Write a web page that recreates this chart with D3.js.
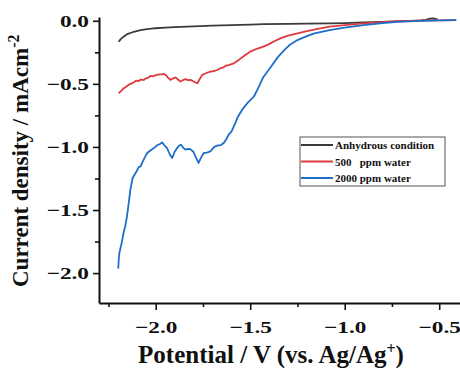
<!DOCTYPE html>
<html>
<head>
<meta charset="utf-8">
<script src="https://cdn.jsdelivr.net/npm/d3@7"></script>
<style>
	body { margin: 0; background: #fff; }
	text { font-family: "Liberation Serif", "Times New Roman", serif; font-weight: bold; }
</style>
</head>
<body>
<div id="chart"></div>
<script>
// Data (potential in V, current density in mA/cm2)
// =====================================================================
var anhydrousV = [-2.196, -2.185, -2.17, -2.15, -2.116, -2.08, -2.045, -2.0, -1.95, -1.9, -1.8, -1.7, -1.6, -1.5, -1.43, -1.3, -1.2, -1.08, -1.0, -0.9, -0.81, -0.72, -0.64, -0.6, -0.57, -0.55, -0.53, -0.51];
var anhydrousJ = [-0.166, -0.145, -0.126, -0.105, -0.087, -0.074, -0.066, -0.059, -0.054, -0.050, -0.044, -0.039, -0.034, -0.030, -0.026, -0.024, -0.022, -0.021, -0.018, -0.013, -0.008, -0.004, 0.0, 0.004, 0.008, 0.017, 0.019, 0.011];

var water500V = [-2.196, -2.185, -2.17, -2.16, -2.15, -2.134, -2.12, -2.11, -2.10, -2.09, -2.08, -2.063, -2.05, -2.04, -2.028, -2.015, -2.0, -1.993, -1.98, -1.965, -1.957, -1.945, -1.935, -1.922, -1.91, -1.895, -1.882, -1.869, -1.855, -1.843, -1.83, -1.818, -1.807, -1.795, -1.78, -1.77, -1.754, -1.74, -1.725, -1.71, -1.69, -1.675, -1.66, -1.645, -1.631, -1.61, -1.587, -1.56, -1.53, -1.50, -1.465, -1.43, -1.40, -1.37, -1.34, -1.30, -1.25, -1.20, -1.15, -1.08, -1.0, -0.9, -0.8, -0.72, -0.6, -0.5, -0.41];
var water500J = [-0.574, -0.560, -0.535, -0.528, -0.515, -0.500, -0.492, -0.480, -0.474, -0.478, -0.466, -0.469, -0.455, -0.452, -0.437, -0.440, -0.431, -0.429, -0.424, -0.425, -0.421, -0.432, -0.450, -0.469, -0.458, -0.448, -0.465, -0.482, -0.470, -0.463, -0.470, -0.468, -0.474, -0.485, -0.495, -0.470, -0.429, -0.420, -0.410, -0.403, -0.398, -0.390, -0.378, -0.372, -0.358, -0.350, -0.337, -0.310, -0.275, -0.245, -0.222, -0.205, -0.185, -0.160, -0.139, -0.118, -0.100, -0.082, -0.067, -0.047, -0.034, -0.020, -0.010, -0.003, 0.001, 0.004, 0.006];

var water2000V = [-2.198, -2.196, -2.192, -2.18, -2.17, -2.16, -2.152, -2.143, -2.134, -2.122, -2.116, -2.10, -2.09, -2.08, -2.07, -2.055, -2.045, -2.03, -2.01, -1.99, -1.975, -1.966, -1.955, -1.94, -1.925, -1.913, -1.90, -1.887, -1.876, -1.866, -1.855, -1.843, -1.83, -1.817, -1.80, -1.79, -1.773, -1.76, -1.746, -1.73, -1.711, -1.69, -1.675, -1.655, -1.64, -1.625, -1.614, -1.60, -1.579, -1.565, -1.54, -1.515, -1.48, -1.46, -1.43, -1.39, -1.355, -1.32, -1.29, -1.25, -1.20, -1.16, -1.08, -1.0, -0.9, -0.8, -0.72, -0.6, -0.5, -0.41];
var water2000J = [-1.963, -1.90, -1.84, -1.76, -1.68, -1.62, -1.55, -1.45, -1.338, -1.246, -1.230, -1.19, -1.16, -1.154, -1.12, -1.075, -1.048, -1.030, -1.009, -0.985, -0.975, -0.964, -0.985, -1.009, -1.060, -1.088, -1.040, -1.009, -0.990, -0.983, -1.005, -1.022, -1.015, -1.017, -1.040, -1.075, -1.127, -1.085, -1.048, -1.045, -1.035, -1.000, -0.990, -0.985, -0.969, -0.935, -0.903, -0.880, -0.811, -0.760, -0.700, -0.653, -0.600, -0.540, -0.445, -0.364, -0.290, -0.232, -0.190, -0.153, -0.122, -0.100, -0.074, -0.054, -0.034, -0.018, -0.008, -0.001, 0.003, 0.005];

var seriesNames = ["Anhydrous condition", "500   ppm water", "2000 ppm water"];
var seriesColors = ["#3b3b3b", "#de3b3f", "#1f6ec8"];

var xMajorTicks = [-2.0, -1.5, -1.0, -0.5];
var xMinorTicks = [-2.25, -1.75, -1.25, -0.75];
var yMajorTicks = [0.0, -0.5, -1.0, -1.5, -2.0];
var yMinorTicks = [-0.25, -0.75, -1.25, -1.75];

// SVG wrapper
// ===========
var svgWidth = 460;
var svgHeight = 368;

var margin = { top: 17, right: 0, bottom: 65, left: 99 };
var width = svgWidth - margin.left - margin.right;
var height = svgHeight - margin.top - margin.bottom;

var svg = d3.select("#chart")
	.append("svg")
	.attr("width", svgWidth)
	.attr("height", svgHeight);

var chartGroup = svg.append("g")
	.attr("transform", `translate(${margin.left}, ${margin.top})`);

// scales
var xScale = d3.scaleLinear().domain([-2.3, -0.39]).range([0, width]);
var yScale = d3.scaleLinear().domain([-2.237, 0.03]).range([height, 0]);

// axes (labels are stretched sideways like the original figure)
// =============================================================
var stretch = 1.33;

var xAxis = chartGroup.append("g")
	.attr("transform", `translate(0, ${height})`)
	.call(d3.axisBottom(xScale).tickValues(xMajorTicks).tickFormat(d3.format(".1f")).tickSize(7).tickSizeOuter(0));

xAxis.selectAll("text")
	.attr("y", 30)
	.attr("dy", null)
	.attr("transform", `scale(${stretch},1)`)
	.style("font-size", "17.5px")
	.attr("fill", "#111");

chartGroup.append("g")
	.attr("transform", `translate(0, ${height})`)
	.call(d3.axisBottom(xScale).tickValues(xMinorTicks).tickFormat("").tickSize(4).tickSizeOuter(0));

var yAxis = chartGroup.append("g")
	.call(d3.axisLeft(yScale).tickValues(yMajorTicks).tickFormat(d3.format(".1f")).tickSize(6).tickSizeOuter(0));

yAxis.selectAll("text")
	.attr("x", -10 / stretch)
	.attr("transform", `scale(${stretch},1)`)
	.style("font-size", "17.5px")
	.attr("fill", "#111");

chartGroup.append("g")
	.call(d3.axisLeft(yScale).tickValues(yMinorTicks).tickFormat("").tickSize(4).tickSizeOuter(0));

chartGroup.selectAll(".domain").attr("stroke", "#111").attr("stroke-width", 2);
chartGroup.selectAll(".tick line").attr("stroke", "#111").attr("stroke-width", 1.6);
chartGroup.selectAll(".domain").filter((d, i) => i % 2 == 1).remove();

// curves
// ======
var lineGen = d3.line()
	.x(d => xScale(d[0]))
	.y(d => yScale(d[1]));

var allSeries = [
	d3.zip(anhydrousV, anhydrousJ),
	d3.zip(water500V, water500J),
	d3.zip(water2000V, water2000J)
];

chartGroup.selectAll(".curve")
	.data(allSeries)
	.enter()
	.append("path")
	.attr("class", "curve")
	.attr("d", lineGen)
	.attr("fill", "none")
	.attr("stroke", (d, i) => seriesColors[i])
	.attr("stroke-width", 1.8)
	.attr("stroke-linejoin", "round");

// legend
// ======
var legend = svg.append("g").attr("transform", "translate(300, 137)");

legend.append("rect")
	.attr("width", 145)
	.attr("height", 49)
	.attr("fill", "#fff")
	.attr("stroke", "#555")
	.attr("stroke-width", 1);

seriesNames.forEach(function (name, i) {
	var row = legend.append("g").attr("transform", `translate(0, ${8 + i * 16.5})`);
	row.append("line")
		.attr("x1", 1).attr("x2", 33)
		.attr("stroke", seriesColors[i])
		.attr("stroke-width", 2);
	row.append("text")
		.attr("x", 35)
		.attr("y", 4)
		.style("font-size", "11px")
		.style("white-space", "pre")
		.attr("fill", "#111")
		.text(name);
});

// axis titles
// ===========
var xTitle = svg.append("text")
	.attr("x", 271)
	.attr("y", 363)
	.attr("text-anchor", "middle")
	.style("font-size", "25px")
	.attr("fill", "#111")
	.text("Potential / V (vs. Ag/Ag");
xTitle.append("tspan").attr("dy", -9).style("font-size", "16px").text("+");
xTitle.append("tspan").attr("dy", 9).text(")");

var yTitle = svg.append("text")
	.attr("transform", "translate(28, 287) rotate(-90)")
	.attr("text-anchor", "start")
	.style("font-size", "23px")
	.attr("fill", "#111")
	.text("Current density / mAcm");
yTitle.append("tspan").attr("dy", -9).style("font-size", "16px").text("-2");
</script>
</body>
</html>
